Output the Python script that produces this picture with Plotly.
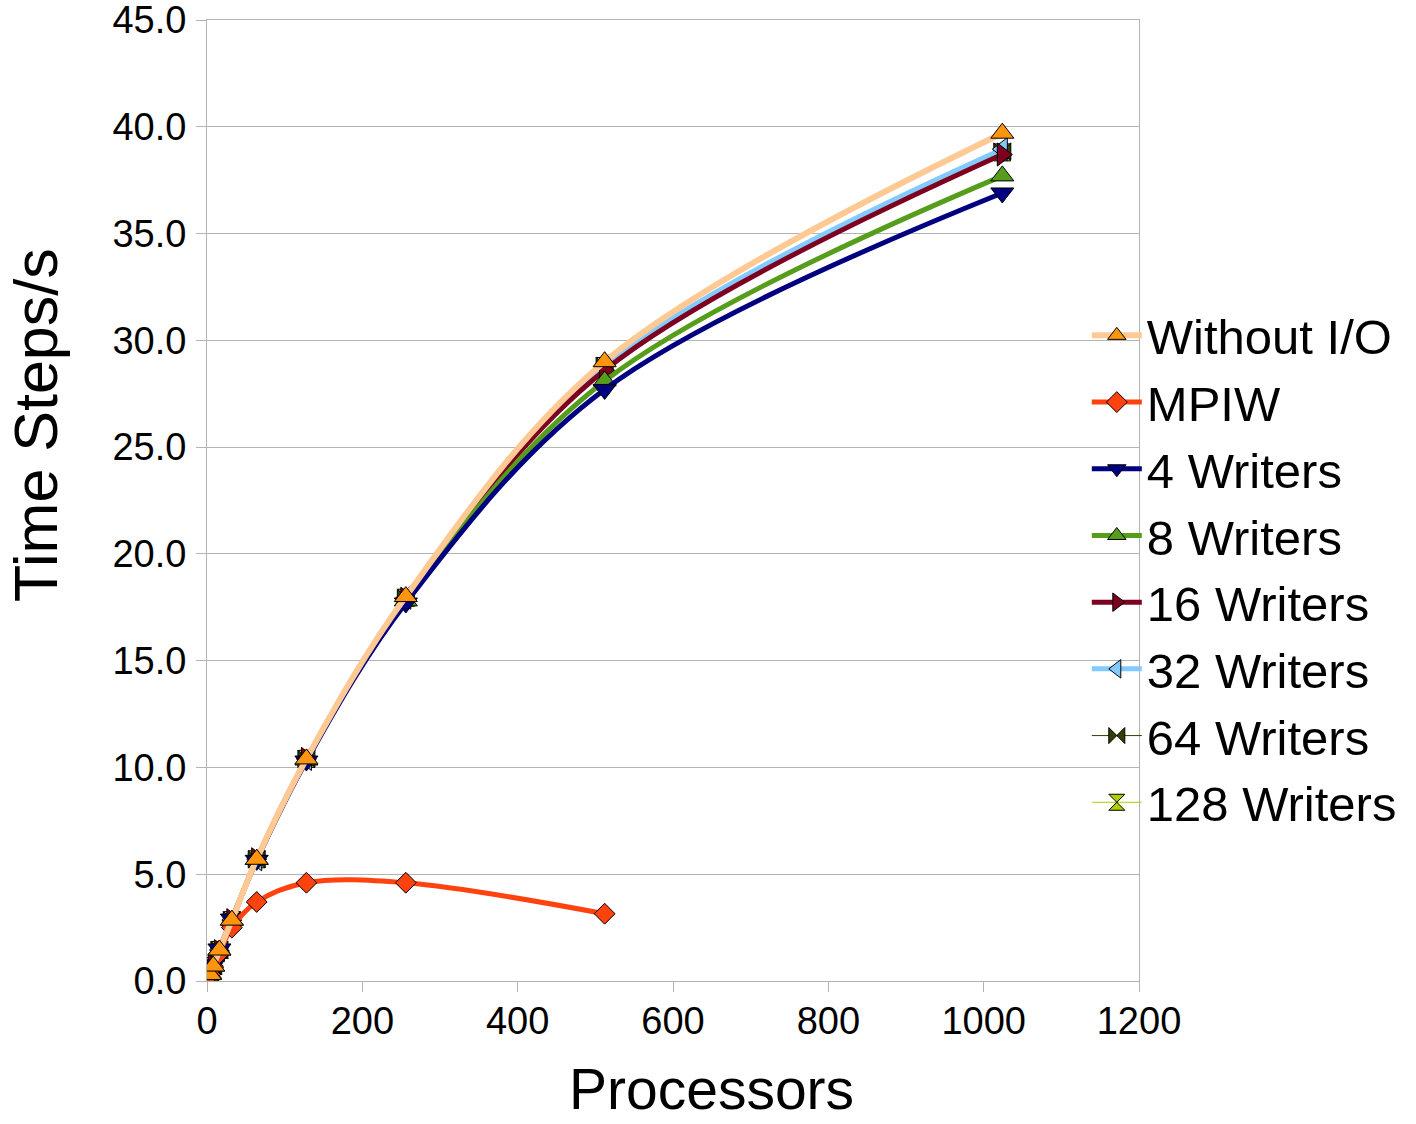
import plotly.graph_objects as go

processors = [4, 8, 16, 32, 64, 128, 256, 512, 1024]
mpiw_procs = [4, 8, 16, 32, 64, 128, 256, 512]

without_io = [0.3, 0.7, 1.45, 2.85, 5.7, 10.4, 18.0, 29.0, 39.7]
mpiw = [0.3, 0.65, 1.3, 2.5, 3.7, 4.6, 4.6, 3.15]
w4 = [0.4, 0.75, 1.5, 2.9, 5.65, 10.3, 17.7, 27.7, 36.9]
w8 = [0.35, 0.7, 1.45, 2.85, 5.7, 10.35, 17.8, 28.1, 37.7]
w16 = [0.3, 0.7, 1.4, 2.85, 5.7, 10.4, 17.9, 28.6, 38.7]
w32 = [0.35, 0.7, 1.45, 2.85, 5.7, 10.4, 17.95, 28.8, 38.95]
w64 = [0.35, 0.7, 1.45, 2.85, 5.7, 10.4, 17.95, 28.8, 38.85]
w128 = [0.35, 0.7, 1.45, 2.85, 5.7, 10.4, 17.95, 28.8, 38.8]

x_ticks = [0, 200, 400, 600, 800, 1000, 1200]
y_ticks = [0, 5, 10, 15, 20, 25, 30, 35, 40, 45]

series = [
    ("Without I/O", processors, without_io, "#ffc993", 6, "#ff950e", "triangle-up", 20),
    ("MPIW", mpiw_procs, mpiw, "#ff420e", 5, "#ff420e", "diamond", 16),
    ("4 Writers", processors, w4, "#000080", 5, "#000080", "triangle-down", 20),
    ("8 Writers", processors, w8, "#579d1c", 5, "#579d1c", "triangle-up", 20),
    ("16 Writers", processors, w16, "#7e0021", 5, "#7e0021", "triangle-right", 20),
    ("32 Writers", processors, w32, "#83caff", 5, "#83caff", "triangle-left", 20),
    ("64 Writers", processors, w64, "#314004", 1, "#314004", "bowtie", 17),
    ("128 Writers", processors, w128, "#aecf00", 1, "#aecf00", "hourglass", 17),
]

fig = go.Figure()
for name, xs, ys, lc, lw, mc, sym, ms in reversed(series):
    fig.add_trace(go.Scatter(
        x=xs, y=ys, name=name, mode="lines+markers",
        line=dict(color=lc, width=lw, shape="spline", smoothing=1),
        marker=dict(color=mc, symbol=sym, size=ms, line=dict(color="#000000", width=1)),
    ))

font_family = "Liberation Sans, Arial, sans-serif"
fig.update_layout(
    width=1416, height=1124,
    margin=dict(l=207, r=277, t=20, b=143, autoexpand=False),
    paper_bgcolor="white", plot_bgcolor="white",
    font=dict(family=font_family, color="black"),
    showlegend=True,
    legend=dict(
        traceorder="reversed",
        x=0.944, xanchor="left", y=0.4287, yanchor="middle",
        font=dict(size=49, family=font_family, color="black"),
        bgcolor="rgba(0,0,0,0)", itemwidth=50,
    ),
    xaxis=dict(
        range=[0, 1200], tickvals=x_ticks, ticktext=[str(v) for v in x_ticks],
        showgrid=False, zeroline=False, automargin=False,
        showline=True, linecolor="#b3b3b3", linewidth=1, mirror=True,
        ticks="outside", ticklen=10, tickcolor="#b3b3b3", ticklabelstandoff=-4,
        ticklabeloverflow="allow",
        tickfont=dict(size=38, family=font_family, color="black"),
    ),
    yaxis=dict(
        range=[0, 45], tickvals=y_ticks, ticktext=[f"{v:.1f}" for v in y_ticks],
        showgrid=True, gridcolor="#b3b3b3", gridwidth=1, zeroline=False, automargin=False,
        showline=True, linecolor="#b3b3b3", linewidth=1, mirror=True,
        ticks="outside", ticklen=10, tickcolor="#b3b3b3", ticklabelstandoff=2,
        ticklabeloverflow="allow",
        tickfont=dict(size=38, family=font_family, color="black"),
    ),
    annotations=[
        dict(text="Processors", xref="paper", yref="paper", x=0.5418, y=-0.1124,
             xanchor="center", yanchor="middle", showarrow=False,
             font=dict(size=57, family=font_family, color="black")),
        dict(text="Time Steps/s", xref="paper", yref="paper", x=-0.1835, y=0.5786,
             xanchor="center", yanchor="middle", showarrow=False, textangle=-90,
             font=dict(size=61, family=font_family, color="black")),
    ],
)

fig.write_html("out.html")
